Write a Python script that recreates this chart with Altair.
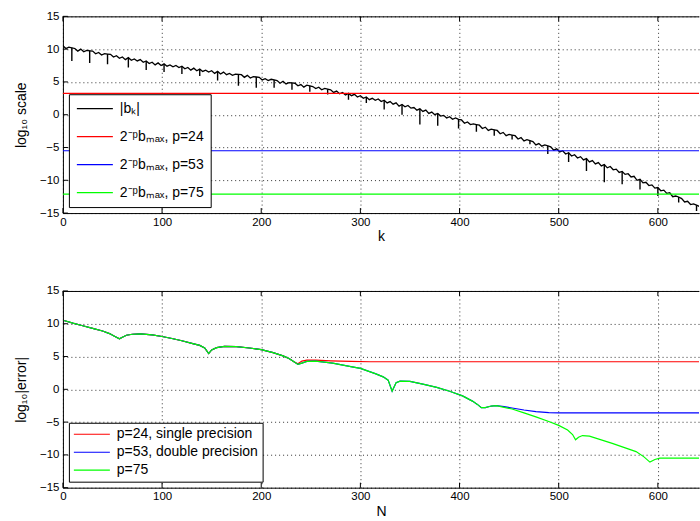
import altair as alt
import pandas as pd

W = 637          # plot width in px (the figure is cropped on the right)
H = 197          # plot height in px
X_END = 641.5    # last visible x value

x_ticks = [0, 100, 200, 300, 400, 500, 600]
y_ticks = [-15, -10, -5, 0, 5, 10, 15]

# ---------------- top panel: log10 |b_k| ----------------
k_grid = list(range(0, 643, 3))
bk_log10 = [
    10.5, 10.1, 10.3, 10.2, 10.1, 9.7, 10.0, 9.6, 9.8, 9.75,
    9.7, 9.3, 9.5, 9.1, 9.3, 9.25, 9.2, 8.8, 9.0, 8.6,
    8.8, 8.4, 8.7, 8.3, 8.5, 8.2, 8.4, 8.0, 8.2, 7.8,
    8.0, 7.6, 7.9, 7.5, 7.75, 7.4, 7.6, 7.3, 7.5, 7.2,
    7.4, 7.0, 7.2, 6.8, 7.1, 6.7, 6.95, 6.6, 6.8, 6.5,
    6.7, 6.3, 6.6, 6.2, 6.5, 6.1, 6.3, 6.0, 6.2, 6.15,
    6.1, 5.7, 6.0, 5.6, 5.8, 5.75, 5.7, 5.3, 5.5, 5.2,
    5.4, 5.3, 5.2, 4.8, 5.1, 4.7, 4.9, 4.85, 4.8, 4.4,
    4.6, 4.2, 4.5, 4.4, 4.3, 4.0, 4.2, 3.8, 4.0, 3.9,
    3.8, 3.4, 3.6, 3.2, 3.4, 3.0, 3.25, 2.9, 3.1, 2.7,
    2.9, 2.5, 2.7, 2.3, 2.5, 2.2, 2.4, 2.0, 2.2, 1.8,
    2.0, 1.6, 1.8, 1.3, 1.55, 1.2, 1.4, 1.0, 1.1, 0.7,
    0.9, 0.5, 0.7, 0.2, 0.4, 0.0, 0.2, -0.2, -0.1, -0.5,
    -0.3, -0.7, -0.5, -0.7, -0.8, -1.3, -1.1, -1.5, -1.4, -1.5,
    -1.6, -2.1, -1.9, -2.4, -2.2, -2.3, -2.4, -2.9, -2.7, -3.2,
    -3.0, -3.1, -3.2, -3.7, -3.5, -4.0, -3.8, -3.95, -4.1, -4.6,
    -4.4, -4.8, -4.6, -4.75, -4.9, -5.4, -5.2, -5.7, -5.5, -6.0,
    -5.8, -6.3, -6.1, -6.6, -6.4, -6.9, -6.7, -7.2, -7.0, -7.5,
    -7.3, -7.8, -7.6, -8.1, -7.9, -8.4, -8.3, -8.8, -8.65, -9.1,
    -9.0, -9.5, -9.4, -10.0, -9.85, -10.4, -10.3, -10.8, -10.7, -11.2,
    -11.1, -11.6, -11.5, -12.0, -11.9, -12.5, -12.4, -12.55, -12.8, -13.3,
    -13.2, -13.7, -13.6, -13.8, -14.0,
]
spike_k = [9, 27, 45, 66, 84, 102, 120, 138, 156, 177, 195, 213, 231, 249, 267,
           288, 306, 324, 342, 360, 378, 399, 417, 435, 453, 471, 489, 510, 528,
           546, 564, 582, 600, 621, 639]
spike_top = [10.2, 9.8, 9.25, 8.7, 8.2, 7.75, 7.4, 6.95, 6.6, 6.15, 5.75, 5.3,
             4.85, 4.4, 3.9, 3.25, 2.7, 2.2, 1.55, 0.9, 0.2, -0.7, -1.5, -2.3,
             -3.1, -3.95, -4.75, -5.8, -6.7, -7.6, -8.65, -9.85, -11.1, -12.55, -13.8]
spike_tip = [8.2, 7.9, 7.7, 7.2, 6.8, 6.5, 6.2, 5.9, 5.2, 4.4, 4.1, 4.1, 3.8, 3.5,
             3.1, 2.3, 1.8, 0.8, 0.0, -1.5, -1.7, -2.1, -2.6, -3.2, -3.8, -4.5,
             -6.0, -7.2, -8.6, -10.3, -10.6, -11.4, -12.4, -13.4, -14.7]

bk_label = "|bₖ|"
thr_labels = ["2⁻ᵖbₘₐₓ, p=24", "2⁻ᵖbₘₐₓ, p=53", "2⁻ᵖbₘₐₓ, p=75"]
thr_log10 = [3.25, -5.5, -12.1]
top_domain = [bk_label] + thr_labels
top_colors = ["#000000", "#ff0000", "#0000ff", "#00ff00"]

# ---------------- bottom panel: log10 |error| ----------------
err_labels = ["p=24, single precision", "p=53, double precision", "p=75"]
err_colors = ["#ff0000", "#0000ff", "#00ff00"]

n_common = [1, 10, 20, 30, 40, 47, 52, 57, 60, 64, 70, 78, 90, 100, 110, 120, 130,
            138, 143, 147, 150, 155, 163, 175, 188, 200, 212, 222, 228, 233]
e_common = [10.5, 10.1, 9.7, 9.3, 8.9, 8.5, 8.1, 7.7, 7.95, 8.25, 8.4, 8.45, 8.3,
            8.05, 7.75, 7.4, 7.0, 6.7, 6.3, 5.45, 6.0, 6.35, 6.55, 6.5, 6.3, 6.05,
            5.6, 5.1, 4.7, 4.2]
n_p24_tail = [237, 241, 246, 255, 270, 290, 310, 642]
e_p24_tail = [3.9, 4.3, 4.45, 4.45, 4.35, 4.25, 4.2, 4.2]
n_mid = [237, 241, 246, 255, 272, 289, 300, 315, 323, 328, 332, 336, 340, 350, 363,
         377, 390, 403, 413, 418, 422, 426, 432, 437]
e_mid = [3.8, 4.0, 4.25, 4.3, 4.0, 3.5, 3.2, 2.4, 1.9, 1.4, -0.3, 1.0, 1.25, 1.2,
         0.8, 0.3, -0.3, -1.0, -1.8, -2.3, -2.8, -2.8, -2.55, -2.5]
n_p53_tail = [445, 453, 465, 477, 490, 500, 642]
e_p53_tail = [-2.65, -2.85, -3.15, -3.4, -3.55, -3.6, -3.6]
n_p75_tail = [445, 453, 465, 477, 490, 500, 509, 514, 517, 520, 524, 531, 554, 578,
              586, 592, 597, 602, 642]
e_p75_tail = [-2.75, -3.0, -3.6, -4.2, -4.9, -5.5, -6.2, -6.9, -7.7, -7.3, -7.05,
              -7.15, -8.25, -9.5, -10.3, -11.1, -10.7, -10.5, -10.5]

# ---------------- tables ----------------
top_line = pd.DataFrame({"k": k_grid, "v": bk_log10, "s": bk_label})
top_thr = pd.DataFrame({"s": thr_labels, "v": thr_log10})
top_spk = pd.DataFrame({"k": spike_k, "v": spike_top, "v2": spike_tip})

p24 = pd.DataFrame({"N": n_common + n_p24_tail, "v": e_common + e_p24_tail, "s": err_labels[0]})
p53 = pd.DataFrame({"N": n_common + n_mid + n_p53_tail, "v": e_common + e_mid + e_p53_tail, "s": err_labels[1]})
p75 = pd.DataFrame({"N": n_common + n_mid + n_p75_tail, "v": e_common + e_mid + e_p75_tail, "s": err_labels[2]})

xtick_df_k = pd.DataFrame({"k": x_ticks})
xtick_df_n = pd.DataFrame({"N": x_ticks})
ytick_df = pd.DataFrame({"v": y_ticks})
one_row = pd.DataFrame({"v": [0]})


def xenc(field, title):
    return alt.X(f"{field}:Q",
                 scale=alt.Scale(domain=[0, X_END], nice=False, zero=False),
                 axis=alt.Axis(values=x_ticks, title=title, labelFlush=False,
                               titlePadding=2, labelPadding=3))


def yenc(title):
    return alt.Y("v:Q",
                 scale=alt.Scale(domain=[-15, 15], nice=False, zero=False),
                 axis=alt.Axis(values=y_ticks, title=title, labelFlush=False,
                               labelPadding=4, titlePadding=11))


def frame(xfield, xtick_df, ytitle, xtitle):
    t_top = alt.Chart(xtick_df).mark_rule(color="black").encode(
        x=xenc(xfield, xtitle), y=alt.value(0), y2=alt.value(5))
    t_bot = alt.Chart(xtick_df).mark_rule(color="black").encode(
        x=xenc(xfield, xtitle), y=alt.value(H), y2=alt.value(H - 5))
    t_left = alt.Chart(ytick_df).mark_rule(color="black").encode(
        y=yenc(ytitle), x=alt.value(0), x2=alt.value(5))
    border = alt.Chart(one_row).mark_rule(color="black").encode(
        x=alt.value(0), x2=alt.value(W), y=alt.value(0.5))
    return [t_top, t_bot, t_left, border]


# ---------------- top chart ----------------
ytop = "log₁₀ scale"
ctop = alt.Color("s:N", scale=alt.Scale(domain=top_domain, range=top_colors),
                 title=None,
                 legend=alt.Legend(orient="bottom-left", offset=6, padding=7,
                                   rowPadding=13, clipHeight=15))

top_l = alt.Chart(top_line).mark_line(strokeWidth=1.3, clip=True).encode(
    x=xenc("k", "k"), y=yenc(ytop), color=ctop)
top_s = alt.Chart(top_spk).mark_rule(color="black", strokeWidth=1.4, clip=True).encode(
    x=xenc("k", "k"), y=yenc(ytop), y2="v2:Q")
top_r = alt.Chart(top_thr).mark_rule(strokeWidth=1.2).encode(
    y=yenc(ytop), color=ctop)

top = alt.layer(top_l, top_s, top_r, *frame("k", xtick_df_k, ytop, "k")).properties(
    width=W, height=H)

# ---------------- bottom chart ----------------
ybot = "log₁₀|error|"
cbot = alt.Color("s:N", scale=alt.Scale(domain=err_labels, range=err_colors),
                 title=None,
                 legend=alt.Legend(orient="bottom-left", offset=6, padding=4,
                                   rowPadding=3, clipHeight=15))

b_layers = [
    alt.Chart(df).mark_line(strokeWidth=1.2, clip=True).encode(
        x=xenc("N", "N"), y=yenc(ybot), color=cbot)
    for df in (p24, p53, p75)
]
bottom = alt.layer(*b_layers, *frame("N", xtick_df_n, ybot, "N")).properties(
    width=W, height=H)

chart = (
    alt.vconcat(top, bottom, spacing=78, bounds="flush")
    .resolve_scale(color="independent")
    .properties(padding={"left": 14, "top": 10, "right": 0, "bottom": 0},
                background="white")
    .configure(font="Liberation Sans")
    .configure_view(stroke=None)
    .configure_axis(labelFont="Liberation Sans", labelFontSize=11.5, labelColor="black",
                    titleFont="Liberation Sans", titleFontSize=14, titleColor="black",
                    titleFontWeight="normal", grid=True, gridColor="#333",
                    gridDash=[1, 3], gridOpacity=1, ticks=False,
                    domainColor="black", domainWidth=1, labelOverlap=False)
    .configure_legend(labelFont="Liberation Sans", labelFontSize=14, labelColor="black",
                      symbolType="stroke", symbolSize=1300, symbolStrokeWidth=1.2,
                      strokeColor="black", fillColor="white", labelLimit=400,
                      labelOffset=6)
)

chart.save("out.html", embed_options={"renderer": "svg", "actions": False})
